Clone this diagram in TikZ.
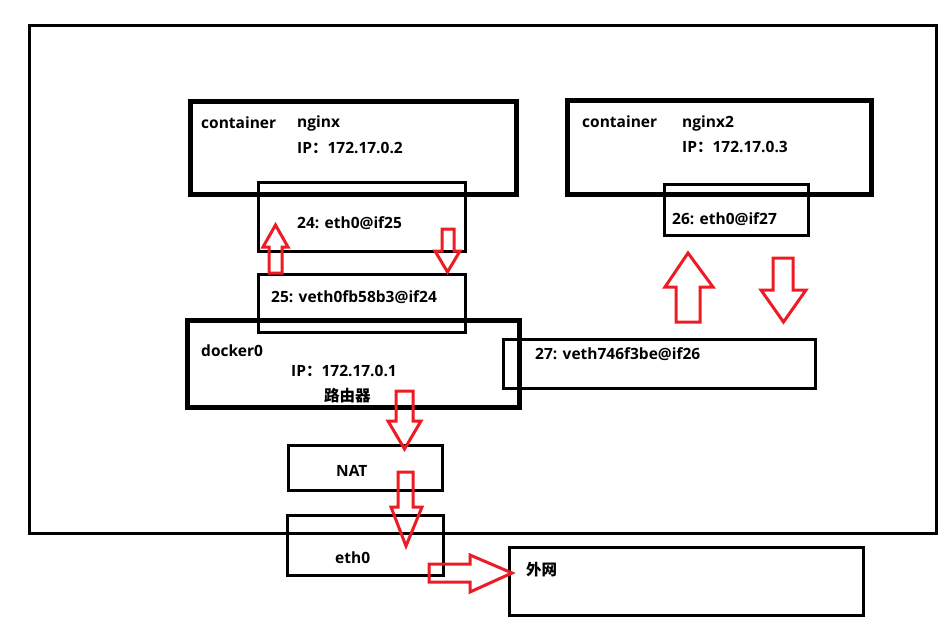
\documentclass[tikz,border=0pt]{standalone}
\usepackage{fontspec}
\setmainfont{Open Sans}
\newfontfamily\cjk{Noto Sans CJK SC}
\definecolor{paintred}{RGB}{237,28,36}
\tikzset{
  thinbox/.style={draw=black, line width=3pt, inner sep=0pt, outer sep=0pt},
  thickbox/.style={draw=black, line width=5pt, inner sep=0pt, outer sep=0pt},
  lbl/.style={anchor=base west, inner sep=0pt, font=\bfseries\fontsize{15.5}{18}\selectfont},
  redarrow/.style={draw=paintred, line width=3pt, line join=miter},
}
\begin{document}
\begin{tikzpicture}[x=1pt,y=-1pt]
\useasboundingbox (0,0) rectangle (951,627);
% boxes
\node[thinbox, minimum width=907pt, minimum height=508pt] (host) at (482.5,279) {};
\node[thickbox, minimum width=326pt, minimum height=93pt] (nginx) at (353.5,148) {};
\node[thinbox, minimum width=207pt, minimum height=69pt] (eth24) at (362,217) {};
\node[thinbox, minimum width=207pt, minimum height=58pt] (veth25) at (362,303.5) {};
\node[thickbox, minimum width=332pt, minimum height=87pt] (docker) at (353.5,364) {};
\node[thinbox, minimum width=154pt, minimum height=45pt] (nat) at (365.5,468) {};
\node[thinbox, minimum width=156pt, minimum height=60pt] (eth0) at (365.5,545.5) {};
\node[thinbox, minimum width=354pt, minimum height=68pt] (wan) at (686.5,581.5) {};
\node[thickbox, minimum width=304pt, minimum height=94pt] (nginx2) at (719.5,147.5) {};
\node[thinbox, minimum width=144pt, minimum height=51pt] (eth26) at (736.5,210) {};
\node[thinbox, minimum width=312pt, minimum height=49pt] (veth27) at (659.5,364) {};
% labels
\node[lbl] (t1) at (201,128) {container};
\node[lbl] (t2) at (297,127) {nginx};
\node[lbl] (t3) at (297,153.5) {IP{\cjk：}172.17.0.2};
\node[lbl] (t4) at (297,228.5) {24: eth0@if25};
\node[lbl] (t5) at (271,302.5) {25: veth0fb58b3@if24};
\node[lbl] (t6) at (582,127) {container};
\node[lbl] (t7) at (682,127) {nginx2};
\node[lbl] (t8) at (682,152.5) {IP{\cjk：}172.17.0.3};
\node[lbl] (t9) at (672,224.5) {26: eth0@if27};
\node[lbl] (t10) at (201,356.5) {docker0};
\node[lbl] (t11) at (291,376.5) {IP{\cjk：}172.17.0.1};
\node[lbl] (t12) at (324,401) {\cjk 路由器};
\node[lbl] (t13) at (336,476.5) {NAT};
\node[lbl] (t14) at (535,359.5) {27: veth746f3be@if26};
\node[lbl] (t15) at (335,563.5) {eth0};
\node[lbl] (t16) at (526,575) {\cjk 外网};
% block arrows
\draw[redarrow] (269,273) -- (269,247) -- (263,247) -- (275.5,225) -- (288,247) -- (282,247) -- (282,273) -- cycle;
\draw[redarrow] (442,229) -- (442,251) -- (435,251) -- (447.5,272) -- (460,251) -- (454,251) -- (454,229) -- cycle;
\draw[redarrow] (676,322) -- (676,287) -- (665,287) -- (688,253) -- (713,287) -- (700,287) -- (700,322) -- cycle;
\draw[redarrow] (773,258) -- (773,290) -- (761,290) -- (783.5,322) -- (806,290) -- (793,290) -- (793,258) -- cycle;
\draw[redarrow] (396,391) -- (396,421) -- (388,421) -- (404.5,449) -- (421,421) -- (413,421) -- (413,391) -- cycle;
\draw[redarrow] (398,472) -- (398,507) -- (391,507) -- (406,546) -- (422,507) -- (413,507) -- (413,472) -- cycle;
\draw[redarrow] (429,564) -- (470,564) -- (470,555) -- (512,573) -- (470,592) -- (470,582) -- (429,582) -- cycle;
\end{tikzpicture}
\end{document}
